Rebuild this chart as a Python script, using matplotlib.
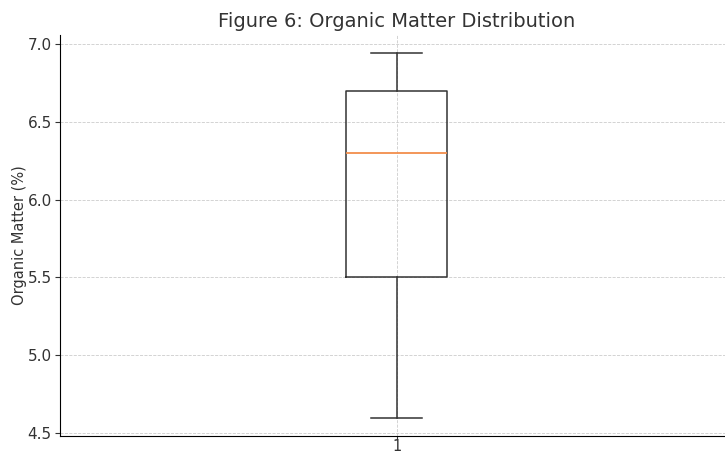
import matplotlib.pyplot as plt

# статистика ящика с усами (чтение с картинки)
labels = ["1"]
whislo = [4.60]
q1 = [5.50]
med = [6.30]
q3 = [6.70]
whishi = [6.94]

stats = []
for i in range(len(labels)):
    stats.append({"label": labels[i], "whislo": whislo[i], "q1": q1[i],
                  "med": med[i], "q3": q3[i], "whishi": whishi[i], "fliers": []})

fig = plt.figure(figsize=(7.25, 4.54), dpi=100)
ax = fig.add_axes([0.083, 0.04, 0.928, 0.883])

ax.bxp(stats, positions=[1], widths=0.15, capwidths=0.076,
       boxprops=dict(color="#333333", linewidth=1.1),
       whiskerprops=dict(color="#333333", linewidth=1.1),
       capprops=dict(color="#333333", linewidth=1.1),
       medianprops=dict(color="#f28e4b", linewidth=1.3))

ax.set_xlim(0.5, 1.5)
ax.set_ylim(4.483, 7.057)
ax.set_yticks([4.5, 5.0, 5.5, 6.0, 6.5, 7.0])
ax.grid(True, linestyle="--", color="#cccccc", linewidth=0.6)
ax.set_axisbelow(True)
for s in ["top", "right"]:
    ax.spines[s].set_visible(False)
ax.tick_params(colors="#333333", labelsize=11, length=3.5, pad=2.5)
ax.tick_params(axis="x", length=2, pad=0.5, labelsize=10.5)

ax.set_title("Figure 6: Organic Matter Distribution", fontsize=14, color="#333333")
ax.set_ylabel("Organic Matter (%)", fontsize=10.5, color="#333333", labelpad=0.5)

plt.savefig("out.png", dpi=100)
